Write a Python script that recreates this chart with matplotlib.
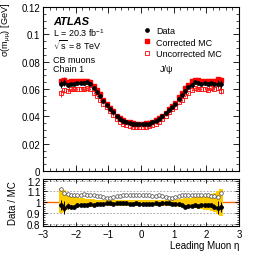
import matplotlib.pyplot as plt
import numpy as np
from matplotlib.ticker import MultipleLocator
from matplotlib.lines import Line2D

plt.rcParams['font.family'] = ['Liberation Sans', 'DejaVu Sans']
plt.rcParams['mathtext.fontset'] = 'custom'
plt.rcParams['mathtext.rm'] = 'Liberation Sans'
plt.rcParams['mathtext.it'] = 'Liberation Sans:italic'

# eta bin centres, -2.45 ... 2.45
eta = np.round(np.arange(-2.45, 2.5, 0.1), 2)

data_sigma = [0.0638, 0.0645, 0.0632, 0.0640, 0.0636, 0.0642, 0.0646, 0.0642, 0.0648, 0.0640,
              0.0610, 0.0580, 0.0550, 0.0512, 0.0482, 0.0456, 0.0430, 0.0402, 0.0382, 0.0368,
              0.0358, 0.0350, 0.0346, 0.0343, 0.0342, 0.0342, 0.0343, 0.0347, 0.0355, 0.0368,
              0.0380, 0.0400, 0.0425, 0.0447, 0.0470, 0.0492, 0.0530, 0.0555, 0.0587, 0.0612,
              0.0632, 0.0648, 0.0645, 0.0640, 0.0642, 0.0638, 0.0641, 0.0636, 0.0640, 0.0638]
data_err = [0.0030, 0.0025, 0.0015, 0.0012, 0.0010, 0.0010, 0.0010, 0.0010, 0.0010, 0.0010,
            0.0008, 0.0008, 0.0008, 0.0006, 0.0006, 0.0005, 0.0005, 0.0005, 0.0004, 0.0004,
            0.0004, 0.0004, 0.0004, 0.0004, 0.0004, 0.0004, 0.0004, 0.0004, 0.0004, 0.0004,
            0.0004, 0.0004, 0.0005, 0.0005, 0.0005, 0.0006, 0.0006, 0.0008, 0.0008, 0.0008,
            0.0010, 0.0010, 0.0010, 0.0010, 0.0010, 0.0010, 0.0012, 0.0015, 0.0025, 0.0030]
corr_sigma = [0.0655, 0.0668, 0.0652, 0.0662, 0.0660, 0.0660, 0.0662, 0.0660, 0.0662, 0.0652,
              0.0625, 0.0592, 0.0560, 0.0520, 0.0488, 0.0461, 0.0436, 0.0406, 0.0386, 0.0370,
              0.0362, 0.0355, 0.0351, 0.0346, 0.0347, 0.0347, 0.0348, 0.0352, 0.0360, 0.0372,
              0.0386, 0.0404, 0.0427, 0.0452, 0.0477, 0.0500, 0.0540, 0.0568, 0.0610, 0.0632,
              0.0655, 0.0668, 0.0665, 0.0662, 0.0658, 0.0656, 0.0660, 0.0660, 0.0670, 0.0665]
uncorr_sigma = [0.0570, 0.0590, 0.0588, 0.0597, 0.0597, 0.0600, 0.0603, 0.0597, 0.0606, 0.0598,
                0.0573, 0.0547, 0.0521, 0.0488, 0.0466, 0.0438, 0.0410, 0.0379, 0.0360, 0.0346,
                0.0336, 0.0327, 0.0323, 0.0322, 0.0320, 0.0320, 0.0322, 0.0326, 0.0335, 0.0347,
                0.0357, 0.0379, 0.0405, 0.0430, 0.0454, 0.0471, 0.0502, 0.0521, 0.0551, 0.0572,
                0.0591, 0.0608, 0.0603, 0.0598, 0.0603, 0.0596, 0.0605, 0.0602, 0.0610, 0.0588]
mc_err = [0.0025, 0.0020, 0.0012, 0.0010, 0.0008, 0.0008, 0.0008, 0.0008, 0.0008, 0.0008,
          0.0006, 0.0006, 0.0006, 0.0005, 0.0005, 0.0004, 0.0004, 0.0004, 0.0003, 0.0003,
          0.0003, 0.0003, 0.0003, 0.0003, 0.0003, 0.0003, 0.0003, 0.0003, 0.0003, 0.0003,
          0.0003, 0.0003, 0.0004, 0.0004, 0.0004, 0.0005, 0.0005, 0.0006, 0.0006, 0.0006,
          0.0008, 0.0008, 0.0008, 0.0008, 0.0008, 0.0008, 0.0010, 0.0012, 0.0020, 0.0025]

# ratio panel
ratio_corr = [0.975, 0.950, 0.965, 0.960, 0.955, 0.970, 0.975, 0.970, 0.975, 0.980,
              0.975, 0.980, 0.985, 0.985, 0.990, 0.990, 0.985, 0.990, 0.990, 0.995,
              0.990, 0.985, 0.985, 0.990, 0.985, 0.985, 0.985, 0.985, 0.985, 0.990,
              0.985, 0.990, 0.995, 0.990, 0.985, 0.985, 0.980, 0.975, 0.960, 0.965,
              0.965, 0.970, 0.965, 0.975, 0.970, 0.975, 0.970, 0.960, 0.950, 0.955]
ratio_corr_err = [0.050, 0.060, 0.025, 0.018, 0.015, 0.012, 0.012, 0.012, 0.012, 0.012,
                  0.010, 0.010, 0.010, 0.008, 0.008, 0.008, 0.008, 0.008, 0.008, 0.008,
                  0.008, 0.008, 0.008, 0.008, 0.008, 0.008, 0.008, 0.008, 0.008, 0.008,
                  0.008, 0.008, 0.008, 0.008, 0.008, 0.008, 0.008, 0.010, 0.010, 0.010,
                  0.012, 0.012, 0.012, 0.012, 0.012, 0.015, 0.018, 0.025, 0.060, 0.050]
ratio_uncorr = [1.120, 1.090, 1.075, 1.070, 1.065, 1.070, 1.070, 1.075, 1.070, 1.070,
                1.065, 1.060, 1.055, 1.050, 1.035, 1.040, 1.050, 1.060, 1.060, 1.065,
                1.065, 1.070, 1.070, 1.065, 1.070, 1.070, 1.065, 1.065, 1.060, 1.060,
                1.065, 1.055, 1.050, 1.040, 1.035, 1.045, 1.055, 1.065, 1.065, 1.070,
                1.070, 1.065, 1.070, 1.070, 1.065, 1.070, 1.060, 1.055, 1.050, 1.085]
band_lo = [0.900, 0.910, 0.930, 0.940, 0.945, 0.950, 0.952, 0.955, 0.955, 0.958,
           0.960, 0.962, 0.963, 0.965, 0.965, 0.965, 0.966, 0.966, 0.966, 0.966,
           0.966, 0.966, 0.966, 0.966, 0.966, 0.966, 0.966, 0.966, 0.966, 0.966,
           0.966, 0.966, 0.966, 0.965, 0.965, 0.963, 0.960, 0.958, 0.955, 0.950,
           0.948, 0.945, 0.940, 0.935, 0.930, 0.925, 0.918, 0.910, 0.895, 0.875]
band_hi = [1.130, 1.110, 1.080, 1.060, 1.050, 1.045, 1.040, 1.035, 1.032, 1.030,
           1.028, 1.025, 1.022, 1.020, 1.020, 1.020, 1.020, 1.020, 1.020, 1.020,
           1.020, 1.020, 1.020, 1.020, 1.020, 1.020, 1.020, 1.020, 1.020, 1.020,
           1.020, 1.020, 1.020, 1.022, 1.025, 1.025, 1.028, 1.030, 1.035, 1.035,
           1.040, 1.045, 1.050, 1.055, 1.060, 1.065, 1.075, 1.085, 1.100, 1.120]

red = '#ff0000'
W, H = 266, 255
fig = plt.figure(figsize=(W / 100, H / 100), dpi=100)
ax = fig.add_axes([43 / W, 1 - 172 / H, 196 / W, 164 / H])
axr = fig.add_axes([43 / W, 1 - 227 / H, 196 / W, 47 / H])

ax.errorbar(eta, uncorr_sigma, yerr=mc_err, fmt='s', ms=2.6, mfc='none', mec=red,
            mew=0.6, ecolor=red, elinewidth=0.6, capsize=0, zorder=2)
ax.errorbar(eta, corr_sigma, yerr=mc_err, fmt='s', ms=2.4, color=red,
            elinewidth=0.6, capsize=0, zorder=3)
ax.errorbar(eta, data_sigma, yerr=data_err, fmt='o', ms=2.4, color='black',
            elinewidth=0.7, capsize=0, zorder=4)

ax.set_xlim(-3, 3)
ax.set_ylim(0, 0.12)
ax.set_yticks([0, 0.02, 0.04, 0.06, 0.08, 0.1, 0.12])
ax.set_yticklabels(['0', '0.02', '0.04', '0.06', '0.08', '0.1', '0.12'])
ax.yaxis.set_minor_locator(MultipleLocator(0.005))
ax.xaxis.set_major_locator(MultipleLocator(1))
ax.xaxis.set_minor_locator(MultipleLocator(0.2))
ax.tick_params(labelbottom=False)
# y title of the top panel, pinned to the top-left corner of the figure
fig.text(13.5 / W, 1 - 3 / H, r'σ(m$_{\mathrm{μμ}}$) [GeV]', fontsize=6.6,
         rotation=90, ha='right', va='top')

ax.text(0.05, 0.915, 'ATLAS', transform=ax.transAxes, fontsize=8, fontweight='bold',
        fontstyle='italic', va='center')
ax.text(0.05, 0.848, r'L = 20.3 fb$^{-1}$', transform=ax.transAxes, fontsize=6.5, va='center')
ax.text(0.05, 0.774, r'$\sqrt{\mathrm{s}}$ = 8 TeV', transform=ax.transAxes, fontsize=6.5, va='center')
ax.text(0.05, 0.677, 'CB muons', transform=ax.transAxes, fontsize=6.5, va='center')
ax.text(0.05, 0.622, 'Chain 1', transform=ax.transAxes, fontsize=6.5, va='center')
ax.text(0.597, 0.622, 'J/ψ', transform=ax.transAxes, fontsize=6.5, va='center')

handles = [Line2D([], [], ls='none', marker='o', ms=2.4, color='black'),
           Line2D([], [], ls='none', marker='s', ms=2.4, color=red),
           Line2D([], [], ls='none', marker='s', ms=2.6, mfc='none', mec=red, mew=0.6)]
ax.legend(handles, ['Data', 'Corrected MC', 'Uncorrected MC'], loc='upper left',
          bbox_to_anchor=(0.49, 0.91), frameon=False, fontsize=6.5, handlelength=0.8,
          handletextpad=0.6, labelspacing=0.25, borderpad=0)

# ratio panel
axr.axhline(1.0, color='#ff6600', lw=1.0, zorder=1)
for yl in [0.8, 0.9, 1.1, 1.2]:
    axr.axhline(yl, color='#999999', lw=0.6, ls=(0, (2, 2)), zorder=1)
edges = np.append(eta - 0.05, eta[-1] + 0.05)
axr.stairs(band_hi, edges, baseline=band_lo, fill=True, color='#ffcc00', lw=0, zorder=2)
axr.plot(eta, ratio_uncorr, 'o', ms=2.6, mfc='white', mec='#444444', mew=0.5, zorder=3)
axr.errorbar(eta, ratio_corr, yerr=ratio_corr_err, xerr=0.05, fmt='o', ms=2.4,
             color='black', elinewidth=0.7, capsize=0, zorder=4)
axr.set_xlim(-3, 3)
axr.set_ylim(0.78, 1.215)
axr.set_yticks([0.8, 0.9, 1.0, 1.1, 1.2])
axr.set_yticklabels(['0.8', '0.9', '1', '1.1', '1.2'])
axr.yaxis.set_minor_locator(MultipleLocator(0.02))
axr.xaxis.set_major_locator(MultipleLocator(1))
axr.xaxis.set_minor_locator(MultipleLocator(0.2))
axr.set_ylabel('Data / MC', fontsize=7)
axr.set_xlabel('Leading Muon η', fontsize=7, loc='right')

for a in (ax, axr):
    a.tick_params(which='both', direction='in', top=True, right=True, labelsize=7, pad=2)
    a.tick_params(which='major', length=4, width=0.6)
    a.tick_params(which='minor', length=2, width=0.5)
    for s in a.spines.values():
        s.set_linewidth(0.8)
axr.tick_params(which='major', length=3)
axr.tick_params(which='minor', length=1.5)
axr.yaxis.set_label_coords(-0.13, 0.5)
axr.xaxis.set_label_coords(1.0, -0.3)

fig.savefig('out.png', dpi=100)
